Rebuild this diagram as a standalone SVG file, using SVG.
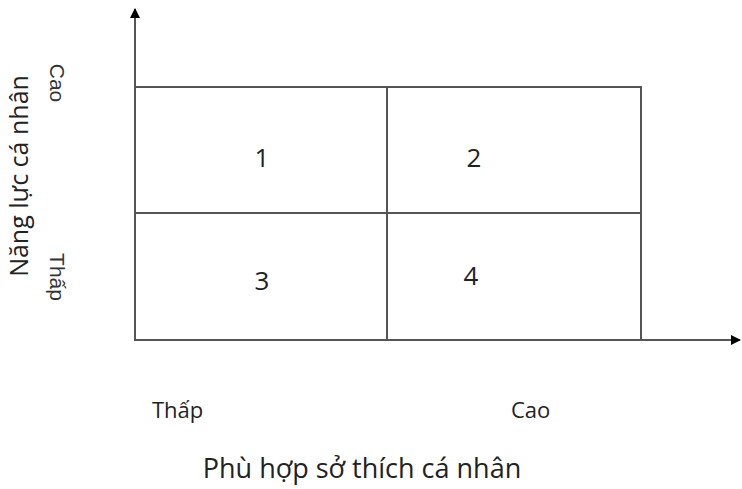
<svg xmlns="http://www.w3.org/2000/svg" width="742" height="489" viewBox="0 0 742 489">
<style>
.ln{stroke:#555;stroke-width:2;fill:none}
.t{font-family:"Open Sans","Liberation Sans",sans-serif;fill:#222}
.s{font-family:"Liberation Sans",Arial,sans-serif;fill:#333;font-size:21px}
.n{font-family:"Open Sans","Liberation Sans",sans-serif;fill:#222;font-size:26px;text-anchor:middle}
</style>
<defs>
<marker id="ah" markerWidth="10" markerHeight="10" refX="9" refY="5" orient="auto" markerUnits="userSpaceOnUse">
<path d="M0,0 L10,5 L0,10 z" fill="#000"/>
</marker>
</defs>
<rect width="742" height="489" fill="#fff"/>
<g id="connectors">
<line class="ln" x1="135" y1="340" x2="135" y2="9" marker-end="url(#ah)"/>
<line class="ln" x1="135" y1="340" x2="740" y2="340" marker-end="url(#ah)"/>
</g>
<g id="grid">
<rect class="ln" x="135" y="87" width="506" height="253"/>
<line class="ln" x1="135" y1="213" x2="641" y2="213"/>
<line class="ln" x1="387" y1="87" x2="387" y2="340"/>
</g>
<g id="q1"><text class="n" x="262" y="167">1</text></g>
<g id="q2"><text class="n" x="474" y="167">2</text></g>
<g id="q3"><text class="n" x="262" y="290">3</text></g>
<g id="q4"><text class="n" x="471" y="285">4</text></g>
<g id="ylabel"><text class="t" font-size="25" text-anchor="middle" transform="translate(28,176) rotate(-90)">Năng lực cá nhân</text></g>
<g id="ycao"><text class="s" text-anchor="middle" transform="translate(50,83) rotate(90)">Cao</text></g>
<g id="ythap"><text class="s" text-anchor="middle" transform="translate(50,277) rotate(90)">Thấp</text></g>
<g id="xthap"><text class="t" font-size="22" x="152" y="418">Thấp</text></g>
<g id="xcao"><text class="t" font-size="22" x="511" y="418">Cao</text></g>
<g id="xlabel"><text class="t" font-size="27" text-anchor="middle" x="362" y="478">Phù hợp sở thích cá nhân</text></g>
</svg>
